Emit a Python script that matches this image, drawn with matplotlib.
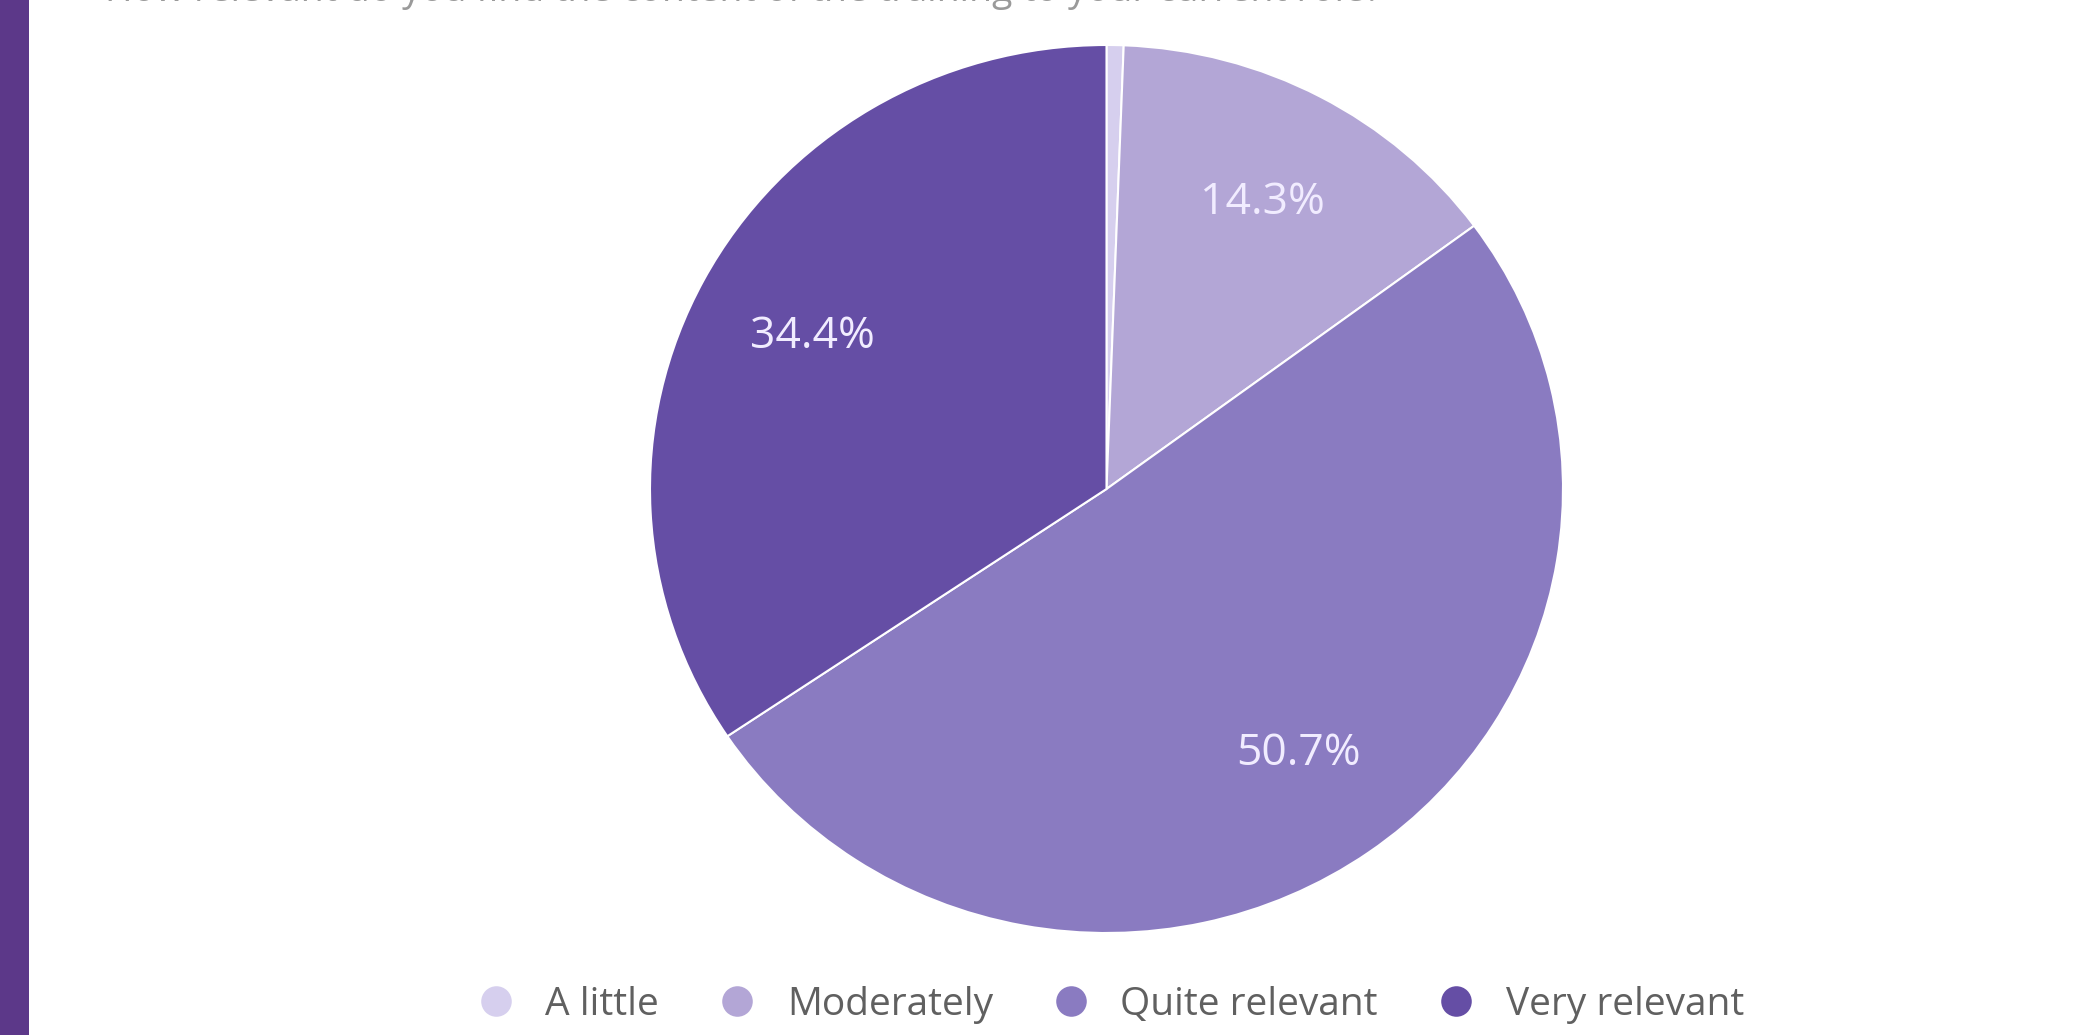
import matplotlib.pyplot as plt
from matplotlib.lines import Line2D
from matplotlib.patches import Rectangle

plt.rcParams['font.family'] = ['Open Sans', 'DejaVu Sans']

# respuestas de la encuesta (%)
categorias = ["A little", "Moderately", "Quite relevant", "Very relevant"]
porcentajes = [0.6, 14.3, 50.7, 34.4]
colores = ["#d6cfee", "#b3a6d6", "#8a7bc1", "#654ea5"]

W, H = 2079, 1035
fig = plt.figure(figsize=(W / 100, H / 100), dpi=100)
fig.patch.set_facecolor("white")

# barra lateral morada
fig.patches.append(Rectangle((0, 0), 29 / W, 1, transform=fig.transFigure,
                             facecolor="#5c3889", edgecolor="none"))

# titulo (queda casi fuera del borde superior)
fig.text(105 / W, 1 - 1 / H, "How relevant do you find the content of the training to your current role?",
         fontsize=27, color="#9a9a9a", va="baseline", ha="left")

# grafica de pastel
ax = fig.add_axes([650 / W, 1 - 933 / H, 913 / W, 888 / H])


def etiqueta(p):
    return f"{p:.1f}%" if p >= 1 else ""


wedges, textos, autotextos = ax.pie(
    porcentajes, colors=colores, startangle=90, counterclock=False,
    autopct=etiqueta, pctdistance=0.73,
    wedgeprops=dict(edgecolor="white", linewidth=1.5),
    textprops=dict(color="#f1ecff", fontsize=32))
ax.set_aspect("auto")
ax.set_xlim(-1, 1)
ax.set_ylim(-1, 1)
ax.axis("off")

# leyenda
manijas = [Line2D([], [], linestyle="none", marker="o", markersize=22,
                  markerfacecolor=c, markeredgecolor="none") for c in colores]
fig.legend(manijas, categorias, loc="center", ncol=4,
           bbox_to_anchor=(1110 / W, 1 - 1005 / H), frameon=False,
           fontsize=28, labelcolor="#606060", handlelength=1.0,
           handletextpad=0.78, columnspacing=1.5, borderpad=0)

plt.savefig("out.png", dpi=100)
